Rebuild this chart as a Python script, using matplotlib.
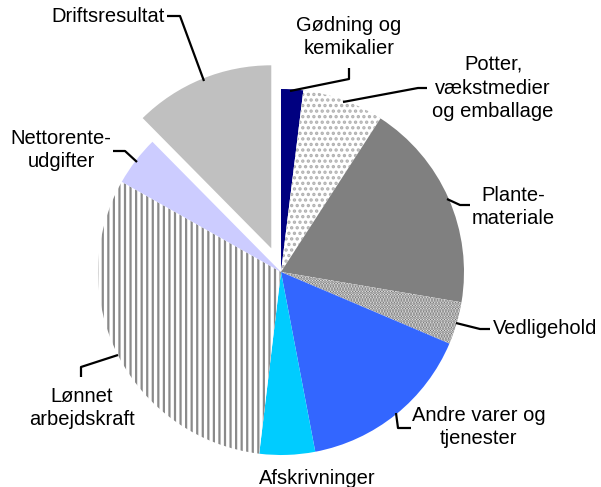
import matplotlib
matplotlib.use("Agg")
import matplotlib.pyplot as plt

# omkostningsfordeling (procent)
labels = ["Gødning og\nkemikalier", "Potter,\nvækstmedier\nog emballage",
          "Plante-\nmateriale", "Vedligehold", "Andre varer og\ntjenester",
          "Afskrivninger", "Lønnet\narbejdskraft", "Nettorente-\nudgifter",
          "Driftsresultat"]
values = [1.95, 7.2, 18.5, 3.75, 15.6, 4.9, 31.3, 4.4, 12.4]
explode = [0, 0, 0, 0, 0, 0, 0, 0, 0.14]

face_colors = ["#000080", "white", "#808080", "white", "#3366FF",
               "#00CCFF", "white", "#CCCCFF", "#C0C0C0"]
hatch_colors = ["#000080", "#b0b0b0", "#808080", "#6a6a6a", "#3366FF",
                "#00CCFF", "#8a8a8a", "#CCCCFF", "#C0C0C0"]
hatches = [None, "...", None, "......", None, None, "|||", None, None]

W, H = 601, 487
R = 183
plt.rcParams["font.family"] = ["Liberation Sans", "DejaVu Sans"]
plt.rcParams["hatch.linewidth"] = 1.6

fig = plt.figure(figsize=(W / 100, H / 100), dpi=100)
ax = fig.add_axes([0, 0, 1, 1])


def py(y):
    # billedkoordinat (y nedad) -> akse (y opad)
    return H - y


# pie() forskyder i dataenheder, så explode skaleres med radius
wedges, _ = ax.pie(values, explode=[e * R for e in explode],
                   colors=face_colors, startangle=90, counterclock=False,
                   center=(281, py(272)), radius=R, frame=True,
                   wedgeprops=dict(linewidth=0))
ax.set_xlim(0, W)
ax.set_ylim(0, H)
ax.set_aspect("equal")
ax.axis("off")
for w, hc, h in zip(wedges, hatch_colors, hatches):
    w.set_edgecolor(hc)
    w.set_linewidth(0)
    if h:
        w.set_hatch(h)

# etiketter (x, y i billedpixel)
label_pos = [(349, 37), (493, 88), (513, 207), (545, 328), (479, 427),
             (317, 478), (82, 408), (61, 150), (108, 16)]
for lab, (x, y) in zip(labels, label_pos):
    ax.text(x, py(y), lab, ha="center", va="center", fontsize=14.5,
            linespacing=1.32, color="black")

# henvisningslinjer
leaders = [
    [(349, 68), (349, 79), (290, 91)],
    [(427, 88), (418, 88), (343, 102)],
    [(447, 199), (460, 205), (470, 205)],
    [(456, 323), (480, 329), (490, 329)],
    [(396, 413), (398, 428), (411, 428)],
    [(81, 377), (81, 367), (118, 355)],
    [(113, 151), (125, 151), (137, 162)],
    [(167, 16), (180, 16), (204, 81)],
]
for pts in leaders:
    xs = [p[0] for p in pts]
    ys = [py(p[1]) for p in pts]
    ax.plot(xs, ys, color="black", linewidth=1.6, solid_capstyle="butt")

fig.savefig("out.png", dpi=100, facecolor="white")
